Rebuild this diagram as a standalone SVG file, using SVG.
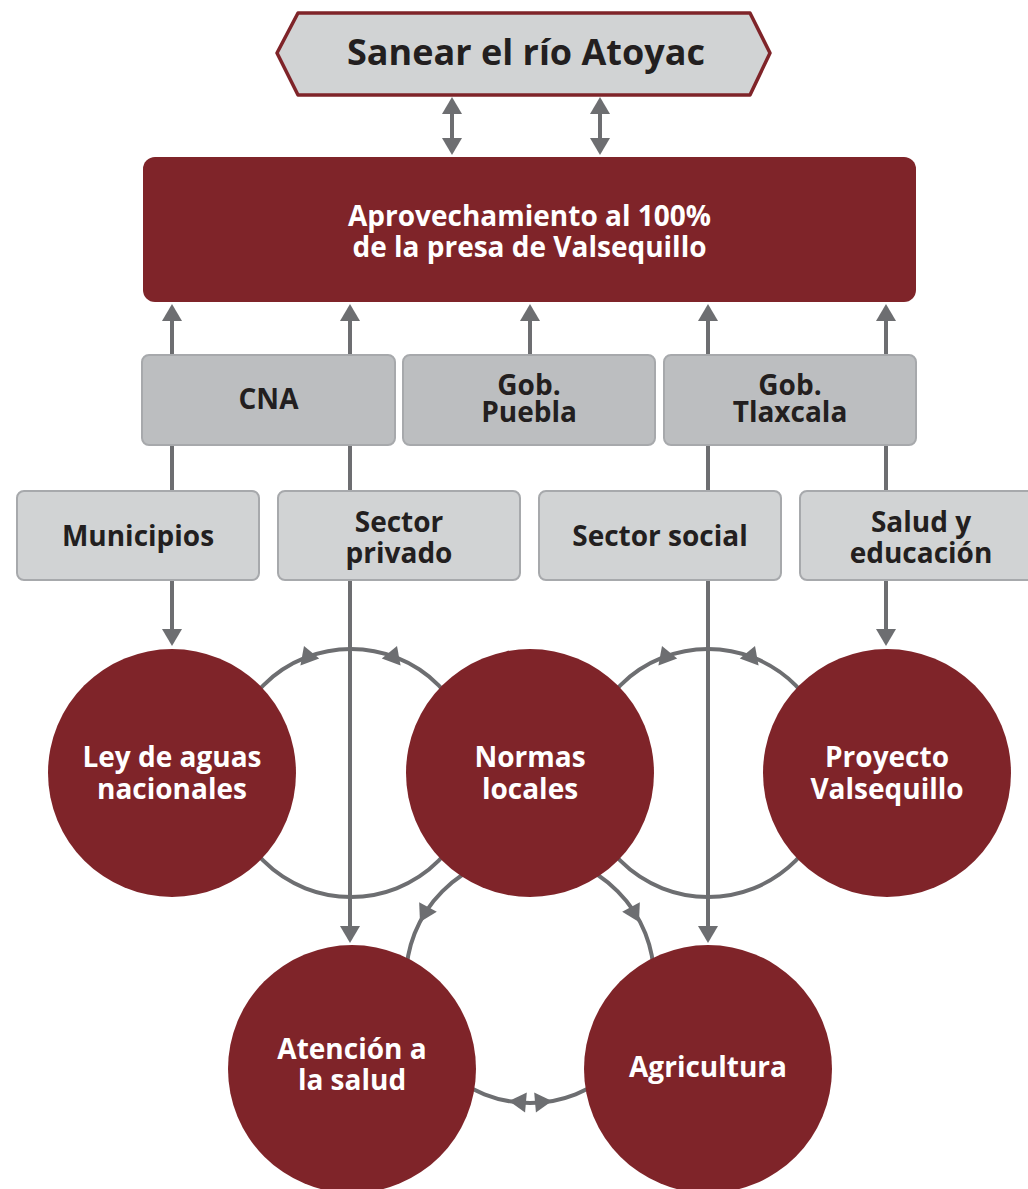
<svg xmlns="http://www.w3.org/2000/svg" xmlns:xlink="http://www.w3.org/1999/xlink" width="1028" height="1189" viewBox="0 0 1028 1189">
<style>
.t{font-family:"Open Sans","Liberation Sans",sans-serif;font-weight:700;text-anchor:middle}
.dk{fill:#231f20}
.wh{fill:#ffffff}
.b1{fill:#bcbec0;stroke:#a7a9ac;stroke-width:2}
.b2{fill:#d1d3d4;stroke:#a7a9ac;stroke-width:2}
.red{fill:#7f2429}
.ln{stroke:#6d6e71;stroke-width:4;fill:none}
.ah{fill:#6d6e71}
</style>
<defs>
<marker id="arr" markerUnits="userSpaceOnUse" markerWidth="20" markerHeight="20" refX="0" refY="10" orient="auto-start-reverse" viewBox="0 0 20 20">
<path d="M0,0 L17,10 L0,20 Z" fill="#6d6e71"/>
</marker>
<path id="ah" d="M0,0 L-17,-10 L-17,10 Z"/>
</defs>
<rect width="1028" height="1189" fill="#ffffff"/>
<g id="connectors">
<line class="ln" x1="452" y1="114" x2="452" y2="138" marker-start="url(#arr)" marker-end="url(#arr)"/>
<line class="ln" x1="600" y1="114" x2="600" y2="138" marker-start="url(#arr)" marker-end="url(#arr)"/>
<line class="ln" x1="172" y1="321" x2="172" y2="629" marker-start="url(#arr)" marker-end="url(#arr)"/>
<line class="ln" x1="350" y1="321" x2="350" y2="926" marker-start="url(#arr)" marker-end="url(#arr)"/>
<line class="ln" x1="530" y1="355" x2="530" y2="321" marker-end="url(#arr)"/>
<line class="ln" x1="708" y1="321" x2="708" y2="926" marker-start="url(#arr)" marker-end="url(#arr)"/>
<line class="ln" x1="886" y1="321" x2="886" y2="629" marker-start="url(#arr)" marker-end="url(#arr)"/>
<circle class="ln" cx="351" cy="773" r="124"/>
<circle class="ln" cx="708" cy="773" r="124"/>
<circle class="ln" cx="530" cy="979" r="124"/>
<use xlink:href="#ah" class="ah" transform="translate(304,646) rotate(-110)"/>
<use xlink:href="#ah" class="ah" transform="translate(397,646) rotate(-70)"/>
<use xlink:href="#ah" class="ah" transform="translate(662,646) rotate(-110)"/>
<use xlink:href="#ah" class="ah" transform="translate(755,646) rotate(-70)"/>
<use xlink:href="#ah" class="ah" transform="translate(420,922) rotate(118)"/>
<use xlink:href="#ah" class="ah" transform="translate(639,922) rotate(62)"/>
<use xlink:href="#ah" class="ah" transform="translate(509,1101) rotate(185)"/>
<use xlink:href="#ah" class="ah" transform="translate(552,1101) rotate(-5)"/>
</g>
<g id="sanear">
<path d="M277,53 L298,13 L750,13 L770,53 L750,95 L298,95 Z" fill="#d1d3d4" stroke="#7f2429" stroke-width="3.5" stroke-linejoin="round"/>
<text class="t dk" x="526" y="65" font-size="36" font-weight="800">Sanear el río Atoyac</text>
</g>
<g id="aprovechamiento">
<rect class="red" x="143" y="157" width="773" height="145" rx="12"/>
<text class="t wh" x="529.5" y="226" font-size="28">Aprovechamiento al 100%</text>
<text class="t wh" x="529.5" y="257" font-size="28">de la presa de Valsequillo</text>
</g>
<g id="cna">
<rect class="b1" x="142" y="355" width="253" height="90" rx="7"/>
<text class="t dk" x="268.5" y="409" font-size="28">CNA</text>
</g>
<g id="gob-puebla">
<rect class="b1" x="403" y="355" width="252" height="90" rx="7"/>
<text class="t dk" x="529" y="395" font-size="28">Gob.</text>
<text class="t dk" x="529" y="422" font-size="28">Puebla</text>
</g>
<g id="gob-tlaxcala">
<rect class="b1" x="664" y="355" width="252" height="90" rx="7"/>
<text class="t dk" x="790" y="395" font-size="28">Gob.</text>
<text class="t dk" x="790" y="422" font-size="28">Tlaxcala</text>
</g>
<g id="municipios">
<rect class="b2" x="17" y="491" width="242" height="89" rx="7"/>
<text class="t dk" x="138" y="546" font-size="28">Municipios</text>
</g>
<g id="sector-privado">
<rect class="b2" x="278" y="491" width="242" height="89" rx="7"/>
<text class="t dk" x="399" y="532" font-size="28">Sector</text>
<text class="t dk" x="399" y="563" font-size="28">privado</text>
</g>
<g id="sector-social">
<rect class="b2" x="539" y="491" width="242" height="89" rx="7"/>
<text class="t dk" x="660" y="546" font-size="28">Sector social</text>
</g>
<g id="salud-educacion">
<rect class="b2" x="800" y="491" width="242" height="89" rx="7"/>
<text class="t dk" x="921" y="532" font-size="28">Salud y</text>
<text class="t dk" x="921" y="563" font-size="28">educación</text>
</g>
<g id="ley-aguas">
<circle class="red" cx="172" cy="773" r="124"/>
<text class="t wh" x="172" y="767" font-size="28">Ley de aguas</text>
<text class="t wh" x="172" y="799" font-size="28">nacionales</text>
</g>
<g id="normas-locales">
<circle class="red" cx="530" cy="773" r="124"/>
<text class="t wh" x="530" y="767" font-size="28">Normas</text>
<text class="t wh" x="530" y="799" font-size="28">locales</text>
</g>
<g id="proyecto-valsequillo">
<circle class="red" cx="887" cy="773" r="124"/>
<text class="t wh" x="887" y="767" font-size="28">Proyecto</text>
<text class="t wh" x="887" y="799" font-size="28">Valsequillo</text>
</g>
<g id="atencion-salud">
<circle class="red" cx="352" cy="1069" r="124"/>
<text class="t wh" x="352" y="1059" font-size="28">Atención a</text>
<text class="t wh" x="352" y="1090" font-size="28">la salud</text>
</g>
<g id="agricultura">
<circle class="red" cx="708" cy="1069" r="124"/>
<text class="t wh" x="708" y="1077" font-size="28">Agricultura</text>
</g>
</svg>
